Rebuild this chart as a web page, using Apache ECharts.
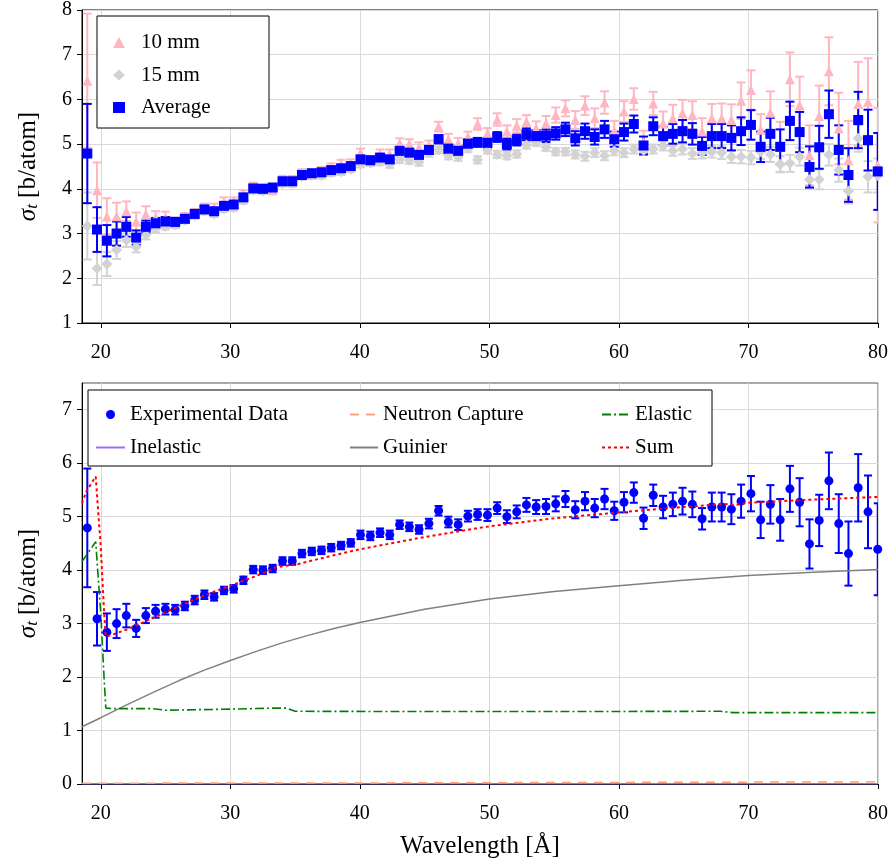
<!DOCTYPE html>
<html>
<head>
<meta charset="utf-8">
<script src="https://cdn.jsdelivr.net/npm/echarts@6/dist/echarts.min.js"></script>
<style>
html, body { margin: 0; padding: 0; background: #fff; }
#chart { width: 891px; height: 866px; }
</style>
</head>
<body>
<div id="chart"></div>
<script>
// Wavelength bins [Å]
const wavelength = [
  18.96, 19.71, 20.47, 21.22, 21.97, 22.73, 23.48, 24.23, 24.99, 25.74,
  26.49, 27.25, 28.00, 28.75, 29.51, 30.26, 31.01, 31.77, 32.52, 33.27,
  34.03, 34.78, 35.53, 36.29, 37.04, 37.79, 38.55, 39.30, 40.05, 40.81,
  41.56, 42.31, 43.07, 43.82, 44.57, 45.33, 46.08, 46.83, 47.59, 48.34,
  49.09, 49.85, 50.60, 51.35, 52.11, 52.86, 53.61, 54.37, 55.12, 55.87,
  56.63, 57.38, 58.13, 58.89, 59.64, 60.39, 61.15, 61.90, 62.65, 63.41,
  64.16, 64.91, 65.67, 66.42, 67.17, 67.93, 68.68, 69.43, 70.19, 70.94,
  71.69, 72.45, 73.20, 73.95, 74.71, 75.46, 76.21, 76.97, 77.72, 78.47,
  79.23, 79.98
];

// Averaged total cross section [b/atom] and its uncertainty
const avgSigma = [
  4.79, 3.09, 2.84, 3.00, 3.15, 2.91, 3.15, 3.23, 3.27, 3.26,
  3.33, 3.44, 3.54, 3.50, 3.62, 3.65, 3.81, 4.01, 4.00, 4.03,
  4.17, 4.17, 4.31, 4.35, 4.37, 4.42, 4.46, 4.51, 4.66, 4.64,
  4.70, 4.66, 4.85, 4.81, 4.76, 4.87, 5.11, 4.90, 4.85, 5.01,
  5.04, 5.03, 5.16, 5.00, 5.09, 5.22, 5.18, 5.19, 5.24, 5.33,
  5.13, 5.29, 5.16, 5.33, 5.11, 5.27, 5.45, 4.97, 5.40, 5.18,
  5.23, 5.29, 5.23, 4.96, 5.18, 5.18, 5.14, 5.29, 5.43, 4.94,
  5.23, 4.94, 5.52, 5.27, 4.49, 4.93, 5.67, 4.87, 4.31, 5.54,
  5.09, 4.39
];
const avgErr = [
  1.11, 0.50, 0.35, 0.27, 0.22, 0.16, 0.14, 0.12, 0.10, 0.09,
  0.08, 0.08, 0.08, 0.07, 0.07, 0.07, 0.07, 0.07, 0.07, 0.07,
  0.07, 0.07, 0.07, 0.07, 0.07, 0.07, 0.07, 0.07, 0.08, 0.08,
  0.08, 0.08, 0.08, 0.08, 0.08, 0.09, 0.09, 0.10, 0.10, 0.10,
  0.10, 0.11, 0.11, 0.12, 0.12, 0.13, 0.13, 0.14, 0.14, 0.15,
  0.16, 0.17, 0.17, 0.19, 0.17, 0.19, 0.19, 0.20, 0.20, 0.21,
  0.22, 0.25, 0.24, 0.20, 0.27, 0.27, 0.28, 0.31, 0.33, 0.34,
  0.36, 0.39, 0.43, 0.45, 0.46, 0.48, 0.53, 0.55, 0.60, 0.63,
  0.68, 0.86
];

// 10 mm sample
const mm10Sigma = [
  6.42, 3.97, 3.38, 3.39, 3.50, 3.27, 3.43, 3.35, 3.36, 3.24,
  3.36, 3.46, 3.58, 3.58, 3.72, 3.72, 3.88, 4.05, 4.02, 3.97,
  4.20, 4.20, 4.35, 4.32, 4.40, 4.48, 4.55, 4.56, 4.80, 4.63,
  4.78, 4.78, 5.02, 5.00, 4.93, 4.97, 5.39, 5.11, 5.02, 5.16,
  5.45, 5.23, 5.55, 5.28, 5.41, 5.50, 5.35, 5.46, 5.65, 5.80,
  5.54, 5.86, 5.58, 5.93, 5.30, 5.73, 6.01, 5.05, 5.91, 5.46,
  5.58, 5.69, 5.65, 5.28, 5.58, 5.58, 5.54, 5.97, 6.21, 5.32,
  5.70, 4.94, 6.45, 5.87, 4.75, 5.63, 6.63, 5.35, 4.64, 5.90,
  5.95, 4.53
];
const mm10Err = [
  1.50, 0.62, 0.41, 0.30, 0.22, 0.20, 0.18, 0.15, 0.13, 0.12,
  0.10, 0.09, 0.09, 0.09, 0.09, 0.09, 0.09, 0.09, 0.09, 0.09,
  0.09, 0.09, 0.09, 0.09, 0.09, 0.09, 0.10, 0.10, 0.10, 0.10,
  0.10, 0.10, 0.11, 0.11, 0.11, 0.11, 0.11, 0.12, 0.12, 0.12,
  0.13, 0.13, 0.14, 0.14, 0.15, 0.15, 0.16, 0.17, 0.17, 0.18,
  0.20, 0.21, 0.22, 0.25, 0.22, 0.23, 0.24, 0.25, 0.26, 0.27,
  0.30, 0.30, 0.31, 0.30, 0.32, 0.33, 0.35, 0.41, 0.44, 0.35,
  0.48, 0.56, 0.60, 0.64, 0.67, 0.68, 0.76, 0.80, 0.88, 0.94,
  0.97, 1.28
];

// 15 mm sample
const mm15Sigma = [
  3.17, 2.22, 2.32, 2.63, 2.85, 2.70, 2.97, 3.12, 3.16, 3.20,
  3.30, 3.40, 3.50, 3.44, 3.55, 3.58, 3.74, 3.97, 3.95, 4.00,
  4.12, 4.12, 4.27, 4.30, 4.30, 4.36, 4.38, 4.44, 4.55, 4.58,
  4.60, 4.55, 4.66, 4.64, 4.60, 4.80, 4.87, 4.74, 4.71, 4.90,
  4.65, 4.87, 4.77, 4.74, 4.78, 4.98, 5.04, 4.93, 4.83, 4.83,
  4.77, 4.73, 4.81, 4.74, 4.85, 4.81, 4.89, 4.86, 4.89, 4.96,
  4.85, 4.89, 4.79, 4.81, 4.83, 4.81, 4.72, 4.72, 4.70, 4.83,
  4.77, 4.55, 4.57, 4.72, 4.21, 4.21, 4.76, 4.42, 3.95, 5.13,
  4.27, 4.30
];
const mm15Err = [
  0.75, 0.37, 0.27, 0.20, 0.15, 0.12, 0.10, 0.09, 0.07, 0.07,
  0.07, 0.07, 0.07, 0.07, 0.07, 0.07, 0.07, 0.07, 0.07, 0.07,
  0.07, 0.07, 0.07, 0.07, 0.07, 0.07, 0.07, 0.07, 0.07, 0.07,
  0.07, 0.08, 0.08, 0.08, 0.08, 0.08, 0.08, 0.08, 0.08, 0.08,
  0.08, 0.08, 0.08, 0.08, 0.08, 0.08, 0.08, 0.08, 0.08, 0.08,
  0.09, 0.10, 0.10, 0.10, 0.10, 0.10, 0.10, 0.10, 0.10, 0.10,
  0.11, 0.12, 0.12, 0.13, 0.13, 0.14, 0.14, 0.15, 0.15, 0.16,
  0.17, 0.18, 0.19, 0.20, 0.21, 0.22, 0.24, 0.26, 0.28, 0.30,
  0.35, 0.38
];

// Model components
const elasticLambda = [18.55, 19.61, 19.74, 20.0, 20.13, 20.26, 20.39, 21, 24, 25, 30, 33.5, 34.3, 35.0, 45, 55, 67.8, 68.8, 80];
const elasticSigma  = [4.16, 4.53, 4.07, 3.19, 2.57, 1.95, 1.42, 1.41, 1.41, 1.38, 1.40, 1.42, 1.42, 1.36, 1.355, 1.355, 1.36, 1.335, 1.335];

const guinierLambda = [18.55, 20, 22, 24, 26, 28, 30, 32, 34, 36, 38, 40, 45, 50, 55, 60, 65, 70, 75, 80];
const guinierSigma  = [1.07, 1.24, 1.48, 1.71, 1.93, 2.13, 2.31, 2.48, 2.64, 2.78, 2.91, 3.02, 3.27, 3.46, 3.60, 3.71, 3.81, 3.90, 3.96, 4.01];

const sumLambda = [18.55, 18.9, 19.61, 19.74, 20.0, 20.13, 20.26, 20.39, 21, 22, 24, 26, 28, 30, 32, 33.5, 34.3, 35.0, 36, 38, 40, 45, 50, 55, 60, 65, 68, 69, 70, 75, 80];
const sumSigma  = [5.25, 5.48, 5.75, 5.30, 4.43, 3.80, 3.19, 2.76, 2.80, 2.89, 3.10, 3.32, 3.53, 3.71, 3.89, 4.05, 4.08, 4.10, 4.16, 4.28, 4.39, 4.62, 4.82, 4.97, 5.08, 5.18, 5.24, 5.22, 5.26, 5.32, 5.37];

const captureLambda = [18.55, 40, 60, 80];
const captureSigma  = [0.015, 0.02, 0.03, 0.04];

const inelasticLambda = [18.55, 80];
const inelasticSigma  = [0.003, 0.003];

// Axis ticks
const xTickValues = [20, 30, 40, 50, 60, 70, 80];
const yTopTicks = [1, 2, 3, 4, 5, 6, 7, 8];
const yBottomTicks = [0, 1, 2, 3, 4, 5, 6, 7];

const FONT = 'Liberation Serif';
const zip = (xs, ys) => xs.map((x, i) => [x, ys[i]]);
const withErr = (xs, ys, es) => xs.map((x, i) => [x, ys[i] - es[i], ys[i] + es[i]]);

function errorBarRenderer(color, halfCap, width) {
  return function (params, api) {
    const x = api.value(0);
    const lo = api.coord([x, api.value(1)]);
    const hi = api.coord([x, api.value(2)]);
    const style = { stroke: color, lineWidth: width };
    return {
      type: 'group',
      children: [
        { type: 'line', shape: { x1: hi[0], y1: hi[1], x2: lo[0], y2: lo[1] }, style },
        { type: 'line', shape: { x1: hi[0] - halfCap, y1: hi[1], x2: hi[0] + halfCap, y2: hi[1] }, style },
        { type: 'line', shape: { x1: lo[0] - halfCap, y1: lo[1], x2: lo[0] + halfCap, y2: lo[1] }, style }
      ]
    };
  };
}

function errorSeries(name, axisIdx, data, color, halfCap, width) {
  return {
    name, type: 'custom', xAxisIndex: axisIdx, yAxisIndex: axisIdx,
    renderItem: errorBarRenderer(color, halfCap, width),
    encode: { x: 0, y: [1, 2] }, data, clip: true, silent: true, z: 2
  };
}

const PINK = '#ffb6c1', LGRAY = '#d3d3d3', BLUE = '#0000ff';

const labelStyle = { fontFamily: FONT, fontSize: 20, color: '#000' };
const axisNameStyle = {
  fontFamily: FONT, fontSize: 25, color: '#000',
  rich: {
    s: { fontFamily: FONT, fontSize: 25, fontStyle: 'italic', color: '#000', lineHeight: 32, verticalAlign: 'middle' },
    t: { fontFamily: FONT, fontSize: 17, fontStyle: 'italic', color: '#000', lineHeight: 32, verticalAlign: 'bottom', padding: [0, 0, 3, 0] },
    r: { fontFamily: FONT, fontSize: 25, color: '#000', lineHeight: 32, verticalAlign: 'middle' }
  }
};
const sigmaName = '{s|σ}{t|t}{r| [b/atom]}';

function xAxis(gridIndex, withName) {
  const ax = {
    type: 'value', gridIndex, min: 18.55, max: 80,
    axisLine: { show: true, onZero: false, lineStyle: { color: '#000', width: 1 } },
    axisTick: { show: true, customValues: xTickValues, length: 5, lineStyle: { color: '#000' } },
    axisLabel: { customValues: xTickValues, margin: 20, ...labelStyle },
    splitLine: { show: true, lineStyle: { color: '#d9d9d9', width: 1 } }
  };
  if (withName) {
    ax.name = 'Wavelength [Å]';
    ax.nameLocation = 'middle';
    ax.nameGap = 50;
    ax.nameTextStyle = { fontFamily: FONT, fontSize: 25, color: '#000' };
  }
  return ax;
}

function yAxis(gridIndex, min, max, ticks) {
  return {
    type: 'value', gridIndex, min, max, interval: 1,
    name: sigmaName, nameLocation: 'middle', nameGap: 38, nameRotate: 90,
    nameTextStyle: axisNameStyle,
    axisLine: { show: true, lineStyle: { color: '#000', width: 1 } },
    axisTick: { show: true, customValues: ticks, length: 5, lineStyle: { color: '#000' } },
    axisLabel: { customValues: ticks, margin: 10, ...labelStyle },
    splitLine: { show: true, lineStyle: { color: '#d9d9d9', width: 1 } }
  };
}

const legendText = { fontFamily: FONT, fontSize: 21, color: '#000' };
const legendTextShifted = { ...legendText, padding: [0, 0, 0, 11] };
const lineEntry = name => ({ name, itemStyle: { opacity: 0 } });

const option = {
  backgroundColor: '#fff',
  animation: false,
  grid: [
    { left: 82, top: 10, width: 796, height: 313, show: true, borderColor: '#000', borderWidth: 1, backgroundColor: 'transparent' },
    { left: 82, top: 383, width: 796, height: 401, show: true, borderColor: '#555', borderWidth: 1, backgroundColor: 'transparent' }
  ],
  xAxis: [xAxis(0, false), xAxis(1, true)],
  yAxis: [yAxis(0, 1, 8, yTopTicks), yAxis(1, 0, 7.5, yBottomTicks)],
  graphic: [
    { type: 'rect', z: 50, shape: { x: 97, y: 16, width: 172, height: 112 }, style: { fill: '#fff', stroke: '#000', lineWidth: 1 } },
    { type: 'rect', z: 50, shape: { x: 88, y: 390, width: 624, height: 76 }, style: { fill: '#fff', stroke: '#000', lineWidth: 1 } }
  ],
  legend: [
    { orient: 'vertical', left: 113, top: 32, padding: 0, itemGap: 11.5, itemWidth: 12, itemHeight: 11, z: 60,
      textStyle: legendTextShifted, data: ['10 mm', '15 mm', 'Average'], selectedMode: false },
    { orient: 'vertical', left: 95, top: 404, padding: 0, itemGap: 12, itemWidth: 29, itemHeight: 9, z: 60,
      textStyle: legendText, data: ['Experimental Data', lineEntry('Inelastic')], selectedMode: false },
    { orient: 'vertical', left: 349, top: 404, padding: 0, itemGap: 12, itemWidth: 28, itemHeight: 9, z: 60,
      textStyle: legendText, data: [lineEntry('Neutron Capture'), lineEntry('Guinier')], selectedMode: false },
    { orient: 'vertical', left: 601, top: 404, padding: 0, itemGap: 12, itemWidth: 28, itemHeight: 9, z: 60,
      textStyle: legendText, data: [lineEntry('Elastic'), lineEntry('Sum')], selectedMode: false }
  ],
  series: [
    // upper panel: individual samples and their average
    errorSeries('err10', 0, withErr(wavelength, mm10Sigma, mm10Err), PINK, 4.5, 2),
    { name: '10 mm', type: 'scatter', xAxisIndex: 0, yAxisIndex: 0, symbol: 'triangle', symbolSize: 10,
      itemStyle: { color: PINK, opacity: 1 }, data: zip(wavelength, mm10Sigma), z: 3 },
    errorSeries('err15', 0, withErr(wavelength, mm15Sigma, mm15Err), LGRAY, 4.5, 2),
    { name: '15 mm', type: 'scatter', xAxisIndex: 0, yAxisIndex: 0, symbol: 'diamond', symbolSize: 11,
      itemStyle: { color: LGRAY, opacity: 1 }, data: zip(wavelength, mm15Sigma), z: 3 },
    errorSeries('errAvg', 0, withErr(wavelength, avgSigma, avgErr), BLUE, 4.5, 2),
    { name: 'Average', type: 'scatter', xAxisIndex: 0, yAxisIndex: 0, symbol: 'rect', symbolSize: 10,
      itemStyle: { color: BLUE, opacity: 1 }, data: zip(wavelength, avgSigma), z: 4 },

    // lower panel: model components and data
    { name: 'Inelastic', type: 'line', xAxisIndex: 1, yAxisIndex: 1, symbol: 'none',
      lineStyle: { color: '#9d6cf2', width: 1.5 }, itemStyle: { color: '#9d6cf2' }, data: zip(inelasticLambda, inelasticSigma), z: 3 },
    { name: 'Neutron Capture', type: 'line', xAxisIndex: 1, yAxisIndex: 1, symbol: 'none',
      lineStyle: { color: '#ffa07a', width: 1.5, type: [9, 7] }, itemStyle: { color: '#ffa07a' }, data: zip(captureLambda, captureSigma), z: 3 },
    { name: 'Guinier', type: 'line', xAxisIndex: 1, yAxisIndex: 1, symbol: 'none',
      lineStyle: { color: '#808080', width: 1.5 }, itemStyle: { color: '#808080' }, data: zip(guinierLambda, guinierSigma), z: 3 },
    { name: 'Elastic', type: 'line', xAxisIndex: 1, yAxisIndex: 1, symbol: 'none',
      lineStyle: { color: '#008000', width: 1.6, type: [9, 3, 2, 3] }, itemStyle: { color: '#008000' }, data: zip(elasticLambda, elasticSigma), z: 3 },
    errorSeries('errExp', 1, withErr(wavelength, avgSigma, avgErr), BLUE, 4, 2),
    { name: 'Experimental Data', type: 'scatter', xAxisIndex: 1, yAxisIndex: 1, symbol: 'circle', symbolSize: 9,
      itemStyle: { color: BLUE, opacity: 1 }, data: zip(wavelength, avgSigma), z: 4 },
    { name: 'Sum', type: 'line', xAxisIndex: 1, yAxisIndex: 1, symbol: 'none',
      lineStyle: { color: '#ff0000', width: 2, type: [3, 3] }, itemStyle: { color: '#ff0000' }, data: zip(sumLambda, sumSigma), z: 5 }
  ]
};

const chart = echarts.init(document.getElementById('chart'), null, { renderer: 'canvas' });
chart.setOption(option);
</script>
</body>
</html>
